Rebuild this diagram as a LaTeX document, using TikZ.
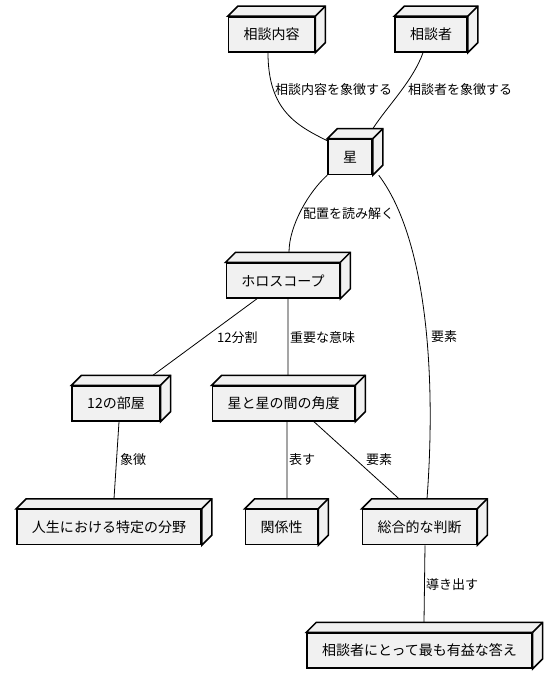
\documentclass[tikz,border=0pt]{standalone}
\usepackage{fontspec}
\setmainfont{Noto Sans CJK JP}
\definecolor{boxfill}{HTML}{F1F1F1}
\tikzset{
  box/.style={draw, line width=1.5bp, fill=boxfill, minimum height=35bp,
    inner xsep=15bp, inner ysep=0pt, font=\fontsize{14bp}{16bp}\selectfont},
  side/.style={draw, line width=1.5bp, fill=boxfill},
  link/.style={line width=0.8bp},
  lbl/.style={anchor=west, inner sep=0pt, font=\fontsize{13bp}{15bp}\selectfont}
}

\begin{document}
\begin{tikzpicture}[x=1bp,y=-1bp]
    \useasboundingbox (0,0) rectangle (557,684);

    % Cajas
    \foreach \n/\x/\y/\txt in {
        naiyo/271.5/34.5/相談内容,
        sodansha/431/34.5/相談者,
        hoshi/350/157/星,
        horo/283/280.5/ホロスコープ,
        room/116/403.5/12の部屋,
        kakudo/283.5/403.5/星と星の間の角度,
        jinsei/109/527/人生における特定の分野,
        kankei/281.5/527/関係性,
        sogo/419.5/527/総合的な判断,
        kotae/419.5/650.5/相談者にとって最も有益な答え
        } {
        \node[box] (\n) at (\x,\y) {\txt};
        \filldraw[side] (\n.north west) -- ++(10,-10)
            -- ([shift={(10bp,10bp)}]\n.north east)
            -- ([shift={(10bp,10bp)}]\n.south east)
            -- (\n.south east) -- (\n.north east) -- cycle;
        \draw[side] (\n.north east) -- ++(10,-10);
    }

    % Conexiones
    \draw[link] ([xshift=-3.5bp]naiyo.south) .. controls +(0,58) and +(-30,-15) .. ([yshift=-2bp]hoshi.north west);
    \draw[link] ([xshift=-8bp]sodansha.south) .. controls +(-10,28) and +(15,-23) .. ([yshift=10bp]hoshi.north east);
    \draw[link] (hoshi.south west) .. controls +(-18,16) and +(0,-27) .. ([xshift=6bp,yshift=10bp]horo.north);
    \draw[link] ([xshift=6bp]hoshi.south east) .. controls +(49,65) and +(9,-119) .. ([xshift=7.5bp,yshift=10bp]sogo.north);
    \draw[link] ([xshift=-26bp]horo.south) -- ([xshift=37bp,yshift=10bp]room.north);
    \draw[link] ([xshift=5bp]horo.south) -- ([xshift=4.5bp,yshift=10bp]kakudo.north);
    \draw[link] ([xshift=3bp]room.south) -- ([xshift=5bp,yshift=10bp]jinsei.north);
    \draw[link] ([xshift=3.5bp]kakudo.south) -- ([xshift=5.5bp,yshift=10bp]kankei.north);
    \draw[link] ([xshift=30.5bp]kakudo.south) -- ([xshift=-20.5bp,yshift=10bp]sogo.north);
    \draw[link] ([xshift=5.5bp]sogo.south) -- ([xshift=4.5bp,yshift=10bp]kotae.north);

    % Etiquetas
    \node[lbl] (l-naiyo) at (275,90) {相談内容を象徴する};
    \node[lbl] (l-sodansha) at (408,90) {相談者を象徴する};
    \node[lbl] (l-haichi) at (303,214) {配置を読み解く};
    \node[lbl] (l-yoso1) at (431,337) {要素};
    \node[lbl] (l-bunkatsu) at (217,338) {12分割};
    \node[lbl] (l-imi) at (290,338) {重要な意味};
    \node[lbl] (l-shocho) at (120,460) {象徴};
    \node[lbl] (l-arawasu) at (289,460) {表す};
    \node[lbl] (l-yoso2) at (366,460) {要素};
    \node[lbl] (l-michibiku) at (426,585) {導き出す};
\end{tikzpicture}
\end{document}
